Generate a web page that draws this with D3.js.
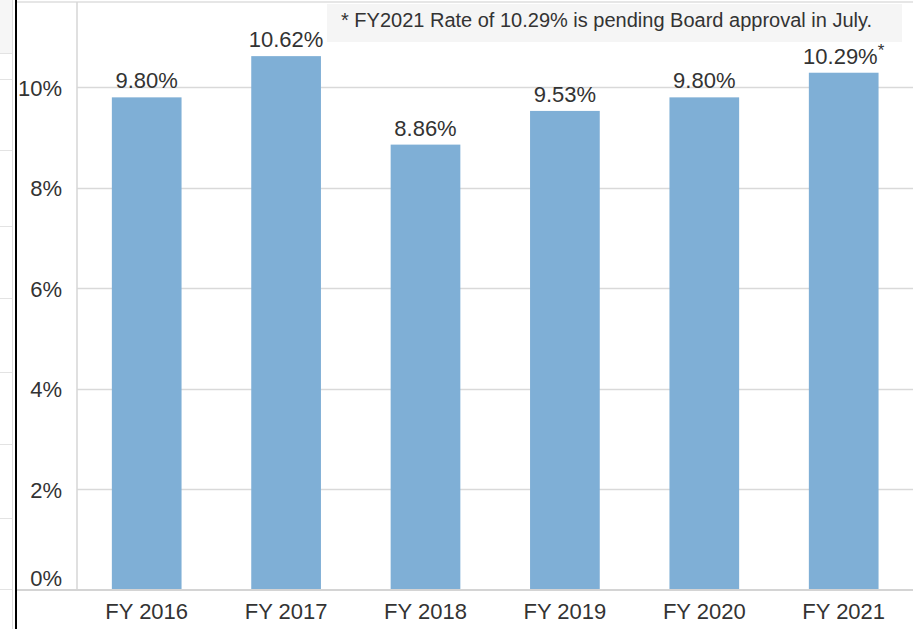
<!DOCTYPE html>
<html>
<head>
<meta charset="utf-8">
<script src="https://cdn.jsdelivr.net/npm/d3@7"></script>
<style>
  html, body { margin: 0; padding: 0; background: #fff; }
  svg { display: block; font-family: "Liberation Sans", Arial, Helvetica, sans-serif; }
</style>
</head>
<body>
<svg id="chart" width="913" height="629"></svg>
<script>
const categories = ["FY 2016", "FY 2017", "FY 2018", "FY 2019", "FY 2020", "FY 2021"];
const values = [9.80, 10.62, 8.86, 9.53, 9.80, 10.29];
const valueLabels = ["9.80%", "10.62%", "8.86%", "9.53%", "9.80%", "10.29%"];
const labelMarks = ["", "", "", "", "", "*"];
const yTicks = [0, 2, 4, 6, 8, 10];
const noteText = "* FY2021 Rate of 10.29% is pending Board approval in July.";

const W = 913, H = 629;
const plot = { left: 77, right: 913.4, top: 3, bottom: 590 };
const svg = d3.select("#chart");

const rows = categories.map((c, i) => ({ cat: c, value: values[i], label: valueLabels[i], mark: labelMarks[i] }));

// left strip (partial neighbouring panel)
const strip = svg.append("g");
strip.append("rect").attr("x", 0).attr("y", 0).attr("width", 12).attr("height", 53).attr("fill", "#f6f6f6");
[53, 79, 150, 226, 298, 372, 444, 518, 589].forEach(yy => {
  strip.append("line").attr("x1", 0).attr("x2", 12).attr("y1", yy + 0.5).attr("y2", yy + 0.5)
    .attr("stroke", "#e3e3e3").attr("stroke-width", 1);
});
strip.append("line").attr("x1", 12.5).attr("x2", 12.5).attr("y1", 0).attr("y2", H)
  .attr("stroke", "#dcdcdc").attr("stroke-width", 1);

const x = d3.scaleBand().domain(categories).range([plot.left, plot.right]).paddingInner(0.5).paddingOuter(0.25);
const y = d3.scaleLinear().domain([0, 10]).range([plot.bottom, 87.3]);

// top border
svg.append("line").attr("x1", 17).attr("x2", W).attr("y1", 2).attr("y2", 2)
  .attr("stroke", "#e6e6e6").attr("stroke-width", 2);

// gridlines
svg.append("g").selectAll("line").data(yTicks.filter(d => d > 0)).join("line")
  .attr("x1", plot.left).attr("x2", W)
  .attr("y1", d => Math.round(y(d)) + 0.5).attr("y2", d => Math.round(y(d)) + 0.5)
  .attr("stroke", "#d9d9d9").attr("stroke-width", 1.5);

// left vertical grid line
svg.append("line").attr("x1", plot.left).attr("x2", plot.left).attr("y1", 2).attr("y2", plot.bottom)
  .attr("stroke", "#d6d6d6").attr("stroke-width", 1.5);

// note box
svg.append("rect").attr("x", 327).attr("y", 4).attr("width", 575).attr("height", 38).attr("fill", "#f5f5f5");
svg.append("text").attr("x", 341).attr("y", 27).attr("font-size", 20).attr("fill", "#333")
  .text(noteText);

// bars
svg.append("g").selectAll("rect").data(rows).join("rect")
  .attr("x", d => x(d.cat))
  .attr("width", x.bandwidth())
  .attr("y", d => y(d.value))
  .attr("height", d => y(0) - y(d.value))
  .attr("fill", "#7fafd6");

// value labels
const vl = svg.append("g").selectAll("text").data(rows).join("text")
  .attr("x", d => x(d.cat) + x.bandwidth() / 2)
  .attr("y", d => y(d.value) - 9)
  .attr("text-anchor", "middle")
  .attr("font-size", 22)
  .attr("fill", "#333");
vl.append("tspan").text(d => d.label);
vl.filter(d => d.mark !== "").append("tspan")
  .attr("font-size", 17).attr("dy", -8)
  .text(d => d.mark);

// baseline
svg.append("line").attr("x1", 17).attr("x2", W).attr("y1", plot.bottom).attr("y2", plot.bottom)
  .attr("stroke", "#d4d4d4").attr("stroke-width", 2);

// y axis
const yAxis = svg.append("g").attr("transform", `translate(${plot.left},0)`)
  .call(d3.axisLeft(y).tickValues(yTicks).tickSize(0).tickPadding(15).tickFormat(d => d + "%"));
yAxis.select(".domain").remove();
yAxis.selectAll("text").attr("font-size", 22).attr("fill", "#333")
  .attr("font-family", "Liberation Sans, Arial, sans-serif")
  .attr("y", d => d === 0 ? -12 : 1);

// x axis
const xAxis = svg.append("g").attr("transform", `translate(0,${plot.bottom})`)
  .call(d3.axisBottom(x).tickSize(0).tickPadding(13.5));
xAxis.select(".domain").remove();
xAxis.selectAll("text").attr("font-size", 22).attr("fill", "#333")
  .attr("font-family", "Liberation Sans, Arial, sans-serif");

// black divider line
svg.append("line").attr("x1", 16).attr("x2", 16).attr("y1", 0).attr("y2", H)
  .attr("stroke", "#000").attr("stroke-width", 2);
</script>
</body>
</html>
